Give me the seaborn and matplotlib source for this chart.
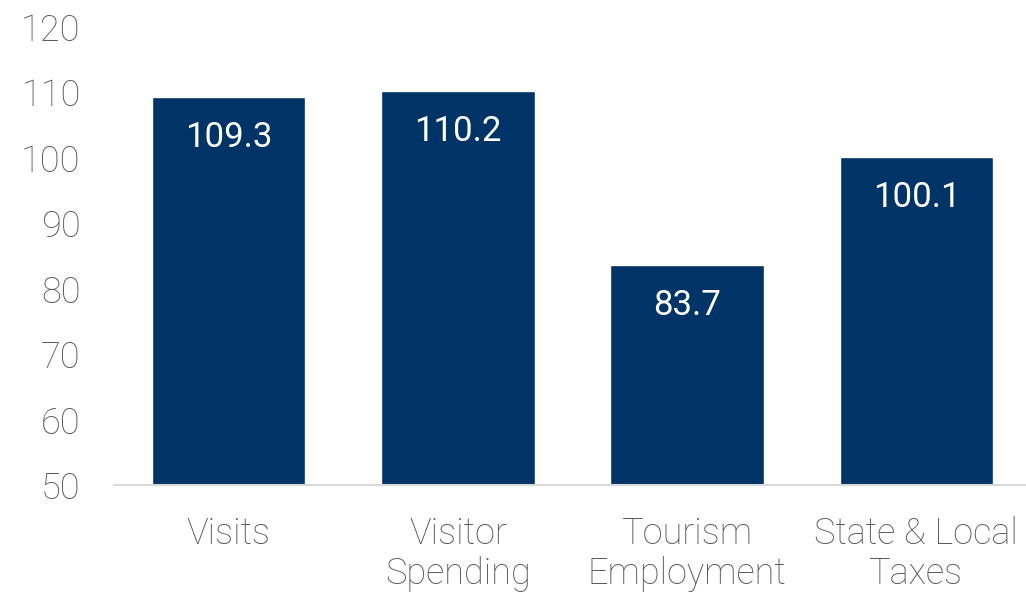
import matplotlib
matplotlib.use("Agg")
import matplotlib.pyplot as plt
import seaborn as sns
import pandas as pd

categories = ["Visits", "Visitor\nSpending", "Tourism\nEmployment", "State & Local\nTaxes"]
values = [109.3, 110.2, 83.7, 100.1]
yticks = [50, 60, 70, 80, 90, 100, 110, 120]

sns.set_theme(style="white")
plt.rcParams['font.family'] = ['Roboto', 'DejaVu Sans']

df = pd.DataFrame({"cat": categories, "val": values})

fig = plt.figure(figsize=(10.26, 5.95), dpi=100)
ax = fig.add_axes([114/1026, 1 - 485/595, 1 - 114/1026, (485 - 27)/595])

sns.barplot(data=df, x="cat", y="val", color="#003366", width=0.67, saturation=1, ax=ax)
ax.set_ylim(50, 120)
ax.set_xlim(-0.5, 3.5 - 5/229.3)
ax.set_yticks(yticks)
ax.set_yticklabels([str(t) for t in yticks], fontsize=26, color="#595959", fontweight="light")
ax.set_xticks(range(len(categories)))
ax.set_xticklabels(categories, fontsize=26, color="#595959", fontweight="light", linespacing=1.15)
ax.tick_params(axis="y", length=0, pad=24)
ax.tick_params(axis="x", length=0, pad=22)
ax.set_xlabel("")
ax.set_ylabel("")
for s in ["top", "right", "left"]:
    ax.spines[s].set_visible(False)
ax.spines["bottom"].set_color("#d9d9d9")
ax.spines["bottom"].set_linewidth(1.5)

for i, v in enumerate(values):
    ax.annotate(f"{v:.1f}", xy=(i, v), xytext=(0, -24), textcoords="offset pixels",
                ha="center", va="top", color="white", fontsize=25, fontweight="normal")

fig.savefig("out.png", dpi=100)
